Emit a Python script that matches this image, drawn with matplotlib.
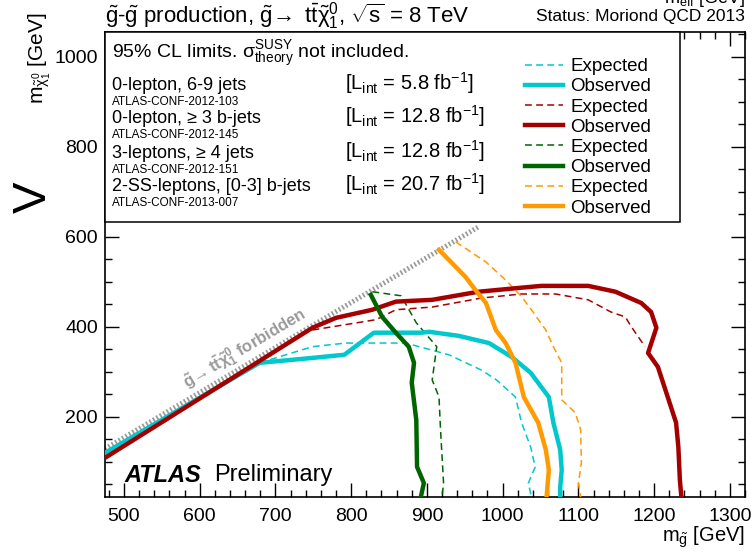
import numpy as np
import matplotlib
matplotlib.use("Agg")
import matplotlib.pyplot as plt
from matplotlib.patches import Rectangle
from matplotlib.ticker import MultipleLocator

plt.rcParams.update({
    "font.family": ["Liberation Sans", "DejaVu Sans"],
    "mathtext.fontset": "custom",
    "mathtext.rm": "Liberation Sans",
    "mathtext.it": "Liberation Sans",
    "mathtext.bf": "Liberation Sans:bold",
    "mathtext.sf": "Liberation Sans",
})

# ---- exclusion contours (m_gluino, m_neutralino) in GeV ----
# 0-lepton, 6-9 jets
zl_exp_x = [679, 749, 793, 833, 872, 929, 972, 992, 1017, 1025, 1037, 1043, 1034, 1038]
zl_exp_y = [320, 356, 364, 364, 364, 338, 304, 282, 244, 187, 133, 89, 53, 22]
zl_obs_x = [475, 679, 749, 791, 830, 893, 903, 942, 982, 1012, 1037, 1061, 1067, 1076, 1078, 1076, 1076]
zl_obs_y = [120, 320, 331, 338, 387, 387, 389, 380, 364, 333, 298, 244, 187, 127, 82, 44, 22]

# 0-lepton, >= 3 b-jets
zb_exp_x = [749, 833, 859, 907, 972, 1025, 1070, 1113, 1143, 1162, 1170, 1188]
zb_exp_y = [393, 416, 438, 444, 464, 473, 473, 460, 433, 422, 400, 356]
zb_obs_x = [475, 749, 780, 828, 859, 907, 968, 1025, 1051, 1113, 1149, 1183, 1196, 1203,
            1192, 1205, 1218, 1229, 1232, 1234, 1236]
zb_obs_y = [109, 398, 420, 438, 456, 460, 478, 487, 491, 491, 478, 453, 433, 398,
            342, 311, 244, 187, 133, 60, 22]

# 3-leptons, >= 4 jets
tl_exp_x = [828, 866, 886, 913, 907, 916, 918, 922, 920]
tl_exp_y = [478, 469, 409, 356, 282, 244, 171, 53, 22]
tl_obs_x = [826, 841, 859, 876, 883, 880, 886, 887, 896, 892]
tl_obs_y = [471, 422, 387, 356, 320, 276, 193, 89, 53, 22]

# 2-SS-leptons, [0-3] b-jets
ss_exp_x = [938, 978, 1004, 1025, 1041, 1057, 1067, 1078, 1078, 1096, 1103, 1104, 1100, 1103]
ss_exp_y = [589, 544, 504, 467, 431, 393, 356, 320, 238, 209, 171, 98, 53, 22]
ss_obs_x = [916, 951, 964, 978, 991, 1004, 1017, 1028, 1047, 1057, 1061, 1058]
ss_obs_y = [571, 511, 482, 453, 393, 364, 320, 244, 187, 127, 82, 22]

# kinematic boundary m_gluino = 2 m_top + m_neutralino
m_top = 173.0
forbid_x = np.array([475.0, 968.0])
forbid_y = forbid_x - 2 * m_top

x_ticks = [500, 600, 700, 800, 900, 1000, 1100, 1200, 1300]
y_ticks = [200, 400, 600, 800, 1000]

CYAN = "#00C8CC"
RED = "#A50000"
GREEN = "#006400"
ORANGE = "#FF9A00"

W, H = 753, 557
fig = plt.figure(figsize=(W / 100, H / 100), dpi=100)


def fx(px):
    return px / W


def fy(py):
    return 1 - py / H


ax = fig.add_axes([fx(105), fy(497), 640 / W, 465 / H])
ax.set_xlim(475, 1320)
ax.set_ylim(22, 1055)

# forbidden region boundary drawn as a hatched grey line
ax.plot(forbid_x, forbid_y, color="#9a9a9a", lw=3.6, linestyle=(0, (0.35, 0.45)),
        dash_capstyle="butt", zorder=2)

thick, thin = 3.2, 1.1
dash = (0, (4.5, 2.8))
series = [
    (zl_exp_x, zl_exp_y, CYAN, "exp"), (zl_obs_x, zl_obs_y, CYAN, "obs"),
    (zb_exp_x, zb_exp_y, RED, "exp"), (zb_obs_x, zb_obs_y, RED, "obs"),
    (tl_exp_x, tl_exp_y, GREEN, "exp"), (tl_obs_x, tl_obs_y, GREEN, "obs"),
    (ss_exp_x, ss_exp_y, ORANGE, "exp"), (ss_obs_x, ss_obs_y, ORANGE, "obs"),
]
handles = []
for xs, ys, col, kind in series:
    if kind == "exp":
        (ln,) = ax.plot(xs, ys, color=col, lw=thin, linestyle=dash, zorder=3,
                        label="Expected")
    else:
        (ln,) = ax.plot(xs, ys, color=col, lw=thick, solid_joinstyle="round",
                        zorder=4, label="Observed")
    handles.append(ln)

ax.xaxis.set_major_locator(plt.FixedLocator(x_ticks))
ax.yaxis.set_major_locator(plt.FixedLocator(y_ticks))
ax.xaxis.set_minor_locator(MultipleLocator(20))
ax.yaxis.set_minor_locator(MultipleLocator(50))
ax.tick_params(which="both", direction="in", top=True, right=True, width=1.0,
               labelsize=14)
ax.tick_params(which="major", length=10)
ax.tick_params(which="minor", length=5)
ax.tick_params(axis="x", which="major", pad=8)
ax.tick_params(axis="y", which="major", pad=5)
for s in ax.spines.values():
    s.set_linewidth(1.2)

# white information panel in the upper part of the frame
box = Rectangle((0, (497 - 222) / 465), (680 - 105) / 640, 1 - (497 - 222) / 465,
                transform=ax.transAxes, facecolor="white", edgecolor="black",
                lw=1.1, zorder=5, clip_on=False)
ax.add_patch(box)

leg = ax.legend(handles=handles, loc="upper left",
                bbox_to_anchor=((525 - 105) / 640, (497 - 58) / 465),
                frameon=False, fontsize=13.5, handlelength=2.0, handletextpad=0.42,
                labelspacing=0.165, borderpad=0, borderaxespad=0)
leg.set_zorder(6)

# forbidden-region label along the boundary
p1 = ax.transData.transform((500, 500 - 2 * m_top))
p2 = ax.transData.transform((900, 900 - 2 * m_top))
angle = np.degrees(np.arctan2(p2[1] - p1[1], p2[0] - p1[0]))
ax.annotate(r"$\mathbf{\tilde{g}\!\rightarrow t\bar{t}\tilde{\chi}^{0}_{1}}$ forbidden",
            xy=(590, 590 - 2 * m_top), xytext=(-3.5, 6), textcoords="offset points",
            rotation=angle, rotation_mode="anchor", ha="left", va="baseline",
            color="#9a9a9a", fontsize=12, fontweight="bold", zorder=3)

# analysis descriptions inside the panel
fig.text(fx(112), fy(58), r"95% CL limits. $\sigma^{\rm SUSY}_{\rm theory}$ not included.",
         fontsize=14, va="baseline", zorder=7)
rows = [
    ("0-lepton, 6-9 jets", "ATLAS-CONF-2012-103", "5.8", 90),
    ("0-lepton, \u2265 3 b-jets", "ATLAS-CONF-2012-145", "12.8", 123),
    ("3-leptons, \u2265 4 jets", "ATLAS-CONF-2012-151", "12.8", 158),
    ("2-SS-leptons, [0-3] b-jets", "ATLAS-CONF-2013-007", "20.7", 191),
]
for name, ref, lumi, base in rows:
    fig.text(fx(112), fy(base), name, fontsize=13, va="baseline", zorder=7)
    fig.text(fx(112), fy(base + 15), ref, fontsize=8.5, va="baseline", zorder=7)
    fig.text(fx(345), fy(base),
             r"[L$_{\rm int}$ = %s fb$^{-1}$]" % lumi, fontsize=14.5, va="baseline",
             zorder=7)

# titles and axis labels
fig.text(fx(105), fy(16),
         r"$\tilde{g}$-$\tilde{g}$ production, $\tilde{g}\!\rightarrow$ t$\bar{\rm t}\tilde{\chi}^{0}_{1}$, $\sqrt{\rm s}$ = 8 TeV",
         fontsize=16, va="center")
fig.text(fx(745), fy(17), "Status: Moriond QCD 2013", fontsize=12.5, va="center",
         ha="right")
fig.text(fx(745), fy(537), r"m$_{\tilde{g}}$ [GeV]", fontsize=14.5, va="center",
         ha="right")
fig.text(fx(40), fy(12), r"m$_{\tilde{\chi}^{0}_{1}}$ [GeV]", fontsize=15,
         rotation=90, ha="center", va="top")
fig.text(fx(124), fy(475), "ATLAS", fontsize=17, fontweight="bold",
         fontstyle="italic", va="center")
fig.text(fx(214), fy(475), "Preliminary", fontsize=17, va="center")

# neighbouring panel fragments at the figure edges
fig.text(fx(745), fy(3), r"m$_{\rm eff}$ [GeV]", fontsize=13, ha="right",
         va="baseline")
fig.text(fx(46), fy(197), "V", fontsize=34, rotation=90, rotation_mode="anchor",
         ha="center", va="baseline")

fig.savefig("out.png", dpi=100)
